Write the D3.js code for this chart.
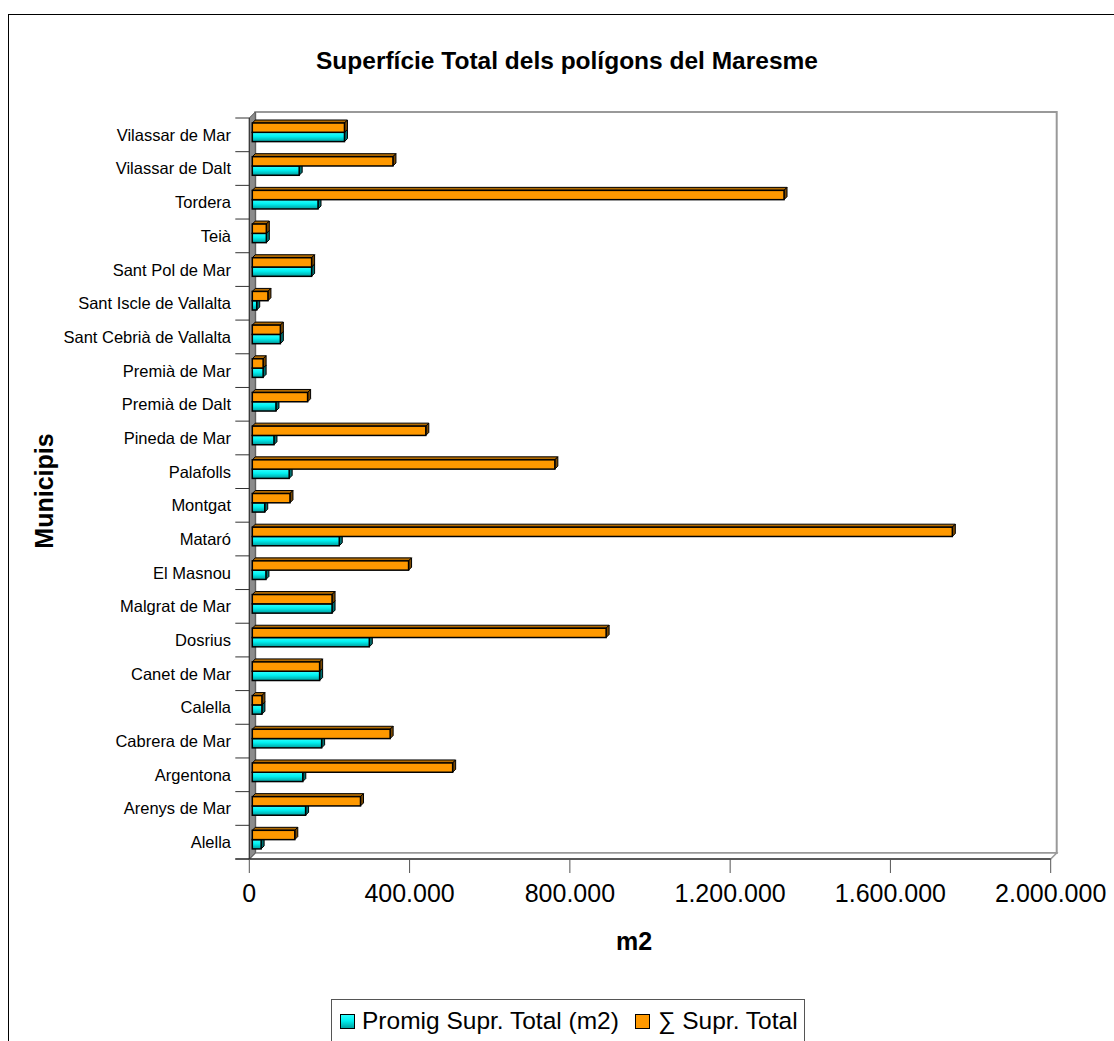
<!DOCTYPE html>
<html><head><meta charset="utf-8">
<script src="https://cdn.jsdelivr.net/npm/d3@7"></script>
<style>body{margin:0;background:#fff;}svg{display:block;font-family:Arial,"Liberation Sans",sans-serif;}</style>
</head><body>
<svg id="chart" width="1114" height="1041"></svg>
<script>
const categories = ["Alella","Arenys de Mar","Argentona","Cabrera de Mar","Calella","Canet de Mar","Dosrius","Malgrat de Mar","El Masnou","Mataró","Montgat","Palafolls","Pineda de Mar","Premià de Dalt","Premià de Mar","Sant Cebrià de Vallalta","Sant Iscle de Vallalta","Sant Pol de Mar","Teià","Tordera","Vilassar de Dalt","Vilassar de Mar"];
const promig = [22000,133000,126000,173000,24000,168000,292000,199000,34000,217000,31000,92000,54000,59000,27000,70000,11000,148000,35000,164000,117000,230000];
const suma = [106000,270000,500000,344000,24000,168000,883000,199000,390000,1747000,94000,755000,433000,138000,27000,70000,39000,148000,35000,1327000,351000,230000];
const xTicks = [0,400000,800000,1200000,1600000,2000000];
const seriesNames = ["Promig Supr. Total (m2)","∑ Supr. Total"];

const svg = d3.select("#chart");
const D = 6, bd = 3;
const x = d3.scaleLinear().domain([0,2000000]).range([249.3,1050.7]);
const y = d3.scaleBand().domain(categories.slice().reverse()).range([118,859]).paddingInner(0).paddingOuter(0);
const fmt = v => d3.format(",")(v).replace(/,/g,".");

// outer border
svg.append("rect").attr("x",8.5).attr("y",14.5).attr("width",1120).attr("height",1040).attr("fill","none").attr("stroke","#000").attr("stroke-width",1);

// title
svg.append("text").attr("x",567).attr("y",69).attr("text-anchor","middle").attr("font-weight","bold").attr("font-size",24.5).text("Superfície Total dels polígons del Maresme");

const x0 = x(0), x1 = x(2000000), yTop = 118, yBot = 859;
// back wall
svg.append("rect").attr("x",x0+D).attr("y",yTop-D).attr("width",x1-x0).attr("height",yBot-yTop).attr("fill","#fff").attr("stroke","#999").attr("stroke-width",2);
// floor
svg.append("path").attr("d",`M${x0},${yBot}L${x1},${yBot}L${x1+D},${yBot-D}L${x0+D},${yBot-D}Z`).attr("fill","#fff").attr("stroke","#999").attr("stroke-width",1.5);
// left wall
svg.append("path").attr("d",`M${x0},${yTop}L${x0+D},${yTop-D}L${x0+D},${yBot-D}L${x0},${yBot}Z`).attr("fill","#8c8c8c").attr("stroke","#555").attr("stroke-width",1);

// front axes
svg.append("line").attr("x1",x0-14).attr("x2",x1).attr("y1",yBot).attr("y2",yBot).attr("stroke","#000").attr("stroke-width",1.2);
svg.append("line").attr("x1",x0).attr("x2",x0).attr("y1",yTop).attr("y2",yBot).attr("stroke","#333").attr("stroke-width",1);

// category ticks
const bounds = categories.map(c => y(c)).concat([yBot]);
svg.append("g").selectAll("line").data(bounds).join("line")
  .attr("x1",x0-14).attr("x2",x0).attr("y1",d=>d).attr("y2",d=>d).attr("stroke","#333").attr("stroke-width",1);

// x ticks
svg.append("g").selectAll("line").data(xTicks).join("line")
  .attr("x1",d=>x(d)).attr("x2",d=>x(d)).attr("y1",yBot).attr("y2",yBot+14).attr("stroke","#555").attr("stroke-width",1);
svg.append("g").selectAll("text").data(xTicks).join("text")
  .attr("x",d=>x(d)).attr("y",902).attr("text-anchor","middle").attr("font-size",25).text(d=>fmt(d));

// category labels
svg.append("g").selectAll("text").data(categories).join("text")
  .attr("x",231).attr("y",c=>y(c)+y.bandwidth()/2).attr("dy","0.36em").attr("text-anchor","end").attr("font-size",16.5).text(c=>c);

// axis titles
svg.append("text").attr("x",634).attr("y",950).attr("text-anchor","middle").attr("font-weight","bold").attr("font-size",25).text("m2");
svg.append("text").attr("transform","translate(53,491) rotate(-90)").attr("text-anchor","middle").attr("font-weight","bold").attr("font-size",25).text("Municipis");

// gradients
const defs = svg.append("defs");
const gc = defs.append("linearGradient").attr("id","gcyan").attr("x1",0).attr("x2",0).attr("y1",0).attr("y2",1);
gc.append("stop").attr("offset","0%").attr("stop-color","#33ffff");
gc.append("stop").attr("offset","45%").attr("stop-color","#00f0f0");
gc.append("stop").attr("offset","100%").attr("stop-color","#009c9c");

const series = [
  {name:"avg", vals:promig, face:"url(#gcyan)", top:"#00b4b4", side:"#007070", off:14.3},
  {name:"sum", vals:suma, face:"#ff9900", top:"#b36b00", side:"#7a4800", off:5}
];
const bh = 9.3;
const barG = svg.append("g");
series.forEach(s => {
  const g = barG.append("g");
  categories.forEach((c,i) => {
    const fx0 = x(0)+bd, fx1 = x(s.vals[i])+bd;
    const fy0 = y(c)+s.off, fy1 = fy0+bh;
    g.append("path").attr("d",`M${fx0},${fy0}L${fx1},${fy0}L${fx1+bd},${fy0-bd}L${fx0+bd},${fy0-bd}Z`).attr("fill",s.top).attr("stroke","#000").attr("stroke-width",1).attr("stroke-linejoin","round");
    g.append("path").attr("d",`M${fx1},${fy0}L${fx1+bd},${fy0-bd}L${fx1+bd},${fy1-bd}L${fx1},${fy1}Z`).attr("fill",s.side).attr("stroke","#000").attr("stroke-width",1).attr("stroke-linejoin","round");
    g.append("rect").attr("x",fx0).attr("y",fy0).attr("width",fx1-fx0).attr("height",bh).attr("fill",s.face).attr("stroke","#000").attr("stroke-width",1.5);
  });
});

// legend
const lg = svg.append("g");
lg.append("rect").attr("x",331.5).attr("y",999.5).attr("width",473).attr("height",60).attr("fill","#fff").attr("stroke","#555").attr("stroke-width",1);
const legItems = [{x:340.5, fill:"url(#gcyan)", tx:362, label:seriesNames[0]},{x:635.5, fill:"#ff9900", tx:658, label:seriesNames[1]}];
legItems.forEach(it => {
  lg.append("rect").attr("x",it.x).attr("y",1014.5).attr("width",14).attr("height",14).attr("fill",it.fill).attr("stroke","#000").attr("stroke-width",1);
  lg.append("text").attr("x",it.tx).attr("y",1029).attr("font-size",24.5).text(it.label);
});
</script>
</body></html>
